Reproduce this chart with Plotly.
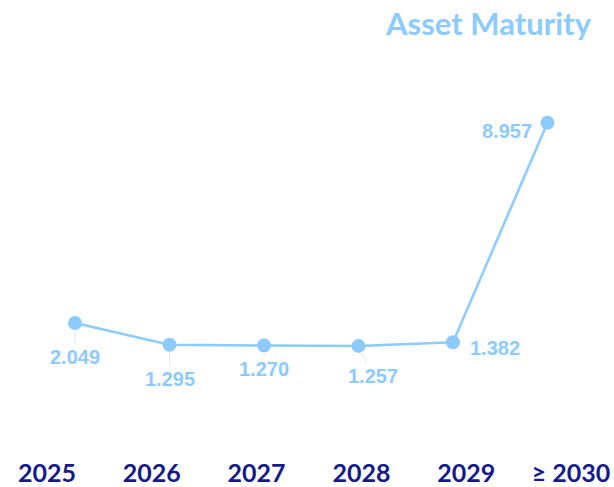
import plotly.graph_objects as go

categories = ["2025", "2026", "2027", "2028", "2029", "≥ 2030"]
values = [2.049, 1.295, 1.270, 1.257, 1.382, 8.957]
value_labels = ["2.049", "1.295", "1.270", "1.257", "1.382", "8.957"]
title_text = "Asset Maturity"

LINE = "#8ccaff"
NAVY = "#141a8c"

# label offsets (pixels) relative to each point
offsets = [(0, 34), (0, 34), (0, 23), (14, 30), (42, 6), (-40, 8)]

fig = go.Figure()
fig.add_trace(go.Scatter(
    x=categories, y=values, mode="lines+markers",
    line=dict(color=LINE, width=2.5),
    marker=dict(color=LINE, size=14),
    hoverinfo="skip", showlegend=False,
))
# invisible trace to carry the category tick labels on the second axis
fig.add_trace(go.Scatter(
    x=categories, y=values, mode="markers", xaxis="x2", yaxis="y2",
    marker=dict(opacity=0), hoverinfo="skip", showlegend=False,
))

for i, (v, t) in enumerate(zip(values, value_labels)):
    ax, ay = offsets[i]
    leader = i < 4
    fig.add_annotation(
        x=i, y=v, xref="x", yref="y", text=t,
        showarrow=True, arrowhead=0, arrowwidth=1,
        arrowcolor="#e6e6e6" if leader else "rgba(0,0,0,0)",
        standoff=7, ax=ax, ay=ay,
        font=dict(family="Liberation Sans, Arial", size=20, color=LINE, weight="bold"),
    )

W, H = 614, 487
YR = [-3.543, 13.193]

fig.add_annotation(
    x=594 / W, y=1 - 23 / H, xref="paper", yref="paper",
    xanchor="right", yanchor="middle", showarrow=False,
    text=title_text,
    font=dict(family="Lato", size=31, color=LINE, weight="bold"),
)

fig.update_layout(
    width=W, height=H,
    margin=dict(l=0, r=0, t=0, b=0),
    paper_bgcolor="white", plot_bgcolor="white",
    font=dict(family="Liberation Sans, Arial"),
    xaxis=dict(type="category", range=[-0.794, 5.704], showticklabels=False,
               showgrid=False, zeroline=False, showline=False, ticks=""),
    yaxis=dict(range=YR, visible=False),
    xaxis2=dict(type="category", overlaying="x", range=[-0.4485, 5.41],
                anchor="free", position=0.0606, side="bottom",
                showgrid=False, zeroline=False, showline=False, ticks="",
                tickfont=dict(family="Lato", size=25, color=NAVY, weight="bold")),
    yaxis2=dict(overlaying="y", range=YR, visible=False),
)

fig.write_html("out.html", config={"displayModeBar": False},
               post_script="document.body.style.margin='0';document.body.style.overflow='hidden';")
